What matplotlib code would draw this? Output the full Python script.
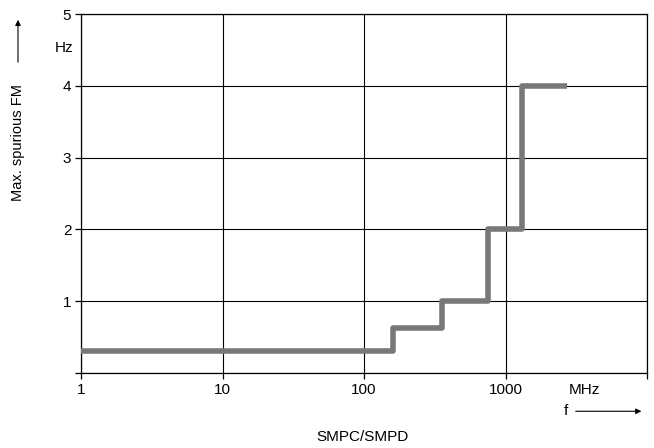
import matplotlib
matplotlib.use("Agg")
import matplotlib.pyplot as plt

# step edges (MHz) and spurious FM level (Hz) for each band
freq_edges = [1, 160, 355, 750, 1300, 2700]
fm_levels = [0.3, 0.63, 1.0, 2.0, 4.0, 4.0]

x_ticks = [1, 10, 100, 1000, 10000]
x_ticklabels = ["1", "10", "100", "1000", ""]
y_ticks = [0, 1, 2, 3, 4, 5]
y_ticklabels = ["", "1", "2", "3", "4", "5"]

plt.rcParams["font.family"] = ["Liberation Sans", "DejaVu Sans"]

fig = plt.figure(figsize=(6.54, 4.48), dpi=100)
ax = fig.add_axes([0.1239, 0.1674, 0.8654, 0.8013])

ax.plot(freq_edges, fm_levels, drawstyle="steps-post", color="#787878",
        linewidth=4, solid_capstyle="butt", zorder=3)

ax.set_xscale("log")
ax.set_xlim(1, 10000)
ax.set_ylim(0, 5)
ax.set_xticks(x_ticks)
ax.set_xticklabels(x_ticklabels)
ax.minorticks_off()
ax.set_yticks(y_ticks)
ax.set_yticklabels(y_ticklabels)
ax.tick_params(direction="out", length=4, width=0.9, colors="black",
               labelsize=11, pad=3)
ax.grid(True, color="black", linewidth=0.8)
for s in ax.spines.values():
    s.set_linewidth(0.9)

ax.text(-0.014, 0.905, "Hz", transform=ax.transAxes, ha="right", va="center",
        fontsize=11)
ax.text(0.89, -0.027, "MHz", transform=ax.transAxes, ha="center", va="top",
        fontsize=11)

fig.text(0.866, 0.082, "f", ha="center", va="center", fontsize=11)
fig.text(0.555, 0.025, "SMPC/SMPD", ha="center", va="center", fontsize=11)
fig.text(0.0275, 0.683, "Max. spurious FM", rotation=90, ha="center",
         va="center", fontsize=10.5)

fig.patches.append(matplotlib.patches.FancyArrowPatch(
    (0.876, 0.082), (0.985, 0.082), transform=fig.transFigure,
    arrowstyle="-|>", mutation_scale=8, color="black", linewidth=0.8))
fig.patches.append(matplotlib.patches.FancyArrowPatch(
    (0.0275, 0.855), (0.0275, 0.962), transform=fig.transFigure,
    arrowstyle="-|>", mutation_scale=8, color="black", linewidth=0.8))

fig.savefig("out.png", dpi=100)
